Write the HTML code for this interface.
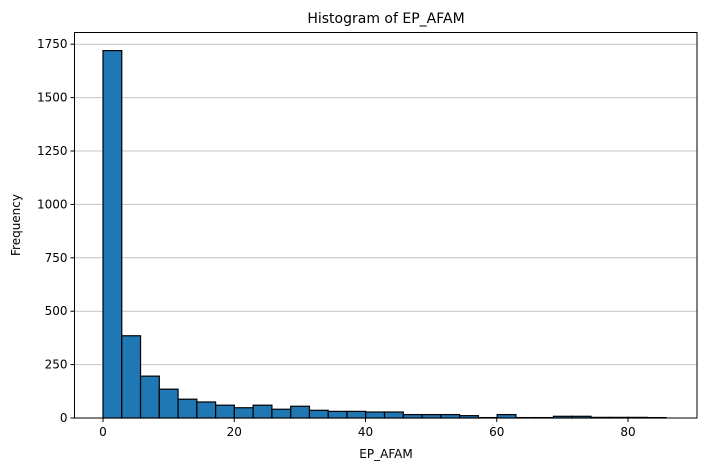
<!DOCTYPE html>
<html><head><meta charset="utf-8"><style>
body{margin:0;background:#fff;font-family:"Liberation Sans","DejaVu Sans",sans-serif;}
svg text{font-family:"DejaVu Sans","Liberation Sans",sans-serif;}
</style></head><body>
<svg id="chart" width="704" height="470" xmlns="http://www.w3.org/2000/svg">
<rect width="704" height="470" fill="#fff"/>
<g id="grid"></g>
<g id="bars"></g>
<g id="axes"></g>
<text x="386" y="23" text-anchor="middle" font-size="14">Histogram of EP_AFAM</text>
<text x="386" y="458" text-anchor="middle" font-size="12">EP_AFAM</text>
<text x="20" y="225" text-anchor="middle" font-size="12" transform="rotate(-90 20 225)">Frequency</text>
</svg>
<script>
const counts=[1720,385,196,135,88,75,60,48,60,41,55,36,31,31,28,28,16,16,16,11,2,16,2,2,8,8,3,3,3,2];
const binStart=0;
const binEnd=85.8;
const yTicks=[0,250,500,750,1000,1250,1500,1750];
const xTicks=[0,20,40,60,80];
const L=74.5,R=697,T=32.5,B=418;
const x=v=>103+v*6.5625;
const y=v=>418-v*0.2136;
const NS="http://www.w3.org/2000/svg";
function mk(tag,attrs,parent){const e=document.createElementNS(NS,tag);for(const k in attrs)e.setAttribute(k,attrs[k]);parent.appendChild(e);return e;}
const grid=document.getElementById('grid'),bars=document.getElementById('bars'),axes=document.getElementById('axes');
yTicks.forEach(t=>{
  const g=mk('line',{x1:L,x2:R,y1:y(t),y2:y(t),stroke:'#c4c4c4','stroke-width':1},grid);
  
  
  const tk=mk('line',{x1:L-4,x2:L,y1:y(t),y2:y(t),stroke:'#000'},axes);
  
  
  const tx=mk('text',{x:L-7,y:y(t)+4,'text-anchor':'end','font-size':12},axes);
  tx.textContent=t;
  
  
});
const w=(binEnd-binStart)/counts.length;
counts.forEach((c,i)=>{
  const x0=x(binStart+i*w),x1=x(binStart+(i+1)*w);
  const r=mk('rect',{x:x0,y:y(c),width:x1-x0,height:y(0)-y(c),fill:'#1f77b4',stroke:'#000','stroke-width':1.2},bars);
  
  
});
xTicks.forEach(t=>{
  const tk=mk('line',{x1:x(t),x2:x(t),y1:B,y2:B+4,stroke:'#000'},axes);
  
  
  const tx=mk('text',{x:x(t),y:B+18,'text-anchor':'middle','font-size':12},axes);
  tx.textContent=t;
  
  
});
const f=mk('rect',{x:L,y:T,width:R-L,height:B-T,fill:'none',stroke:'#000','stroke-width':1},axes);


</script>
</body></html>
